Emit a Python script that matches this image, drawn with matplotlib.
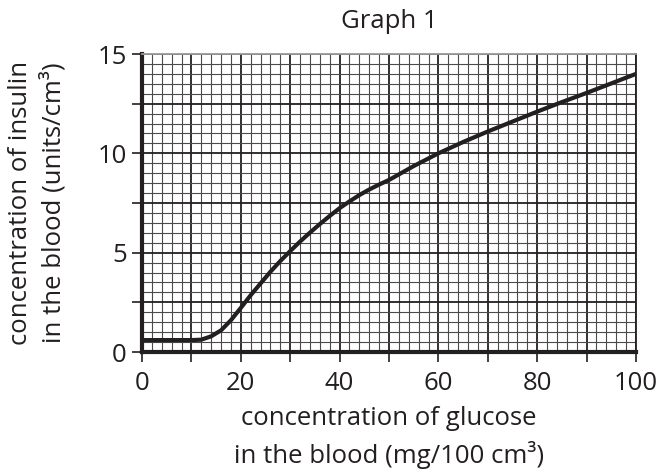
import matplotlib
matplotlib.use("Agg")
import matplotlib.pyplot as plt
from matplotlib.ticker import MultipleLocator, FixedLocator

# Data
glucose = [0, 5, 10, 12, 14, 16, 18, 20, 22, 24, 26, 28, 30, 32, 34, 36, 38, 40,
           42, 44, 46, 48, 50, 55, 60, 65, 70, 75, 80, 85, 90, 95, 100]
insulin = [0.6, 0.6, 0.6, 0.62, 0.79, 1.09, 1.6, 2.22, 2.86, 3.45, 4.04, 4.58, 5.08, 5.56,
           6.01, 6.44, 6.85, 7.24, 7.58, 7.9, 8.18, 8.43, 8.66, 9.36, 10.0, 10.57, 11.1,
           11.6, 12.1, 12.58, 13.04, 13.52, 14.0]

xticks_major = [0, 10, 20, 30, 40, 50, 60, 70, 80, 90, 100]
xtick_labels = ["0", "", "20", "", "40", "", "60", "", "80", "", "100"]
yticks_major = [0, 2.5, 5, 7.5, 10, 12.5, 15]
ytick_labels = ["0", "", "5", "", "10", "", "15"]

title = "Graph 1"
xlabel = "concentration of glucose\nin the blood (mg/100 cm³)"
ylabel = "concentration of insulin\nin the blood (units/cm³)"

plt.rcParams['font.family'] = ['Open Sans', 'DejaVu Sans']
ink = '#231f20'

fig = plt.figure(figsize=(6.62, 4.73), dpi=100)
ax = fig.add_axes([0.2145, 0.2558, 0.7462, 0.6300])

ax.set_xlim(0, 100)
ax.set_ylim(0, 15)

ax.xaxis.set_major_locator(FixedLocator(xticks_major))
ax.set_xticklabels(xtick_labels)
ax.yaxis.set_major_locator(FixedLocator(yticks_major))
ax.set_yticklabels(ytick_labels)
ax.xaxis.set_minor_locator(MultipleLocator(2))
ax.yaxis.set_minor_locator(MultipleLocator(0.5))

ax.grid(which='minor', color='#4a4a4a', linewidth=0.8)
ax.grid(which='major', color=ink, linewidth=1.3)
ax.set_axisbelow(True)

ax.tick_params(which='minor', length=0)
ax.tick_params(which='major', length=7, width=1.2, color=ink, labelcolor=ink,
               labelsize=18.5, direction='out')
ax.tick_params(axis='x', which='major', pad=7)
ax.tick_params(axis='y', which='major', pad=4)

for s in ['left', 'bottom']:
    ax.spines[s].set_linewidth(3)
    ax.spines[s].set_color(ink)
ax.spines['right'].set_linewidth(1.3)
ax.spines['right'].set_color(ink)
ax.spines['top'].set_linewidth(1.3)
ax.spines['top'].set_color('#9a9a9a')

ax.plot(glucose, insulin, color=ink, linewidth=3, solid_capstyle='butt',
        solid_joinstyle='round', zorder=5)

ax.set_title(title, fontsize=18.5, color=ink, pad=19)
ax.set_xlabel(xlabel, fontsize=18.5, color=ink, linespacing=1.45, labelpad=7)
ax.set_ylabel(ylabel, fontsize=18.5, color=ink, linespacing=1.35, labelpad=22)

fig.savefig("out.png", dpi=100)
